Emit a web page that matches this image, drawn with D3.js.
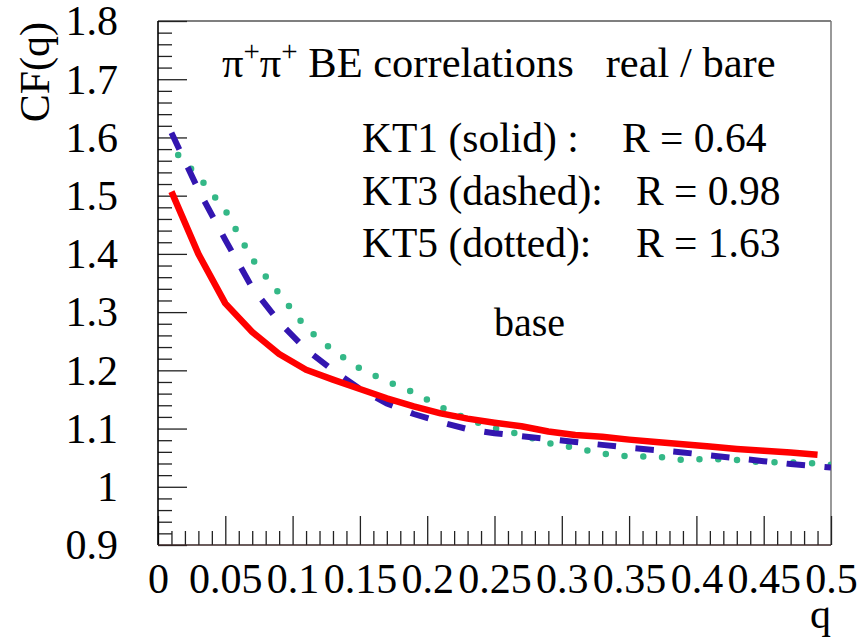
<!DOCTYPE html>
<html>
<head>
<meta charset="utf-8">
<script src="https://cdn.jsdelivr.net/npm/d3@7/dist/d3.min.js"></script>
<style>
  html, body { margin: 0; padding: 0; background: #fff; }
  svg { display: block; }
  svg text { font-family: 'Liberation Serif' !important; fill: #000; }
</style>
</head>
<body>
<svg id="chart" width="865" height="639"></svg>
<script>
// Correlation function CF(q) for three kT bins
const qKT1 = [0.01,0.03,0.05,0.07,0.09,0.11,0.13,0.15,0.17,0.19,0.21,0.23,0.25,0.27,0.29,0.31,0.33,0.35,0.37,0.39,0.41,0.43,0.45,0.47,0.49];
const cfKT1 = [1.507,1.400,1.315,1.266,1.228,1.201,1.184,1.168,1.152,1.138,1.126,1.117,1.110,1.104,1.095,1.089,1.086,1.081,1.077,1.073,1.069,1.065,1.062,1.059,1.055];

const qKT3 = [0.01,0.03,0.05,0.07,0.09,0.11,0.13,0.15,0.17,0.19,0.21,0.23,0.25,0.27,0.29,0.31,0.33,0.35,0.37,0.39,0.41,0.43,0.45,0.47,0.49,0.50];
const cfKT3 = [1.608,1.510,1.424,1.342,1.283,1.236,1.200,1.168,1.143,1.125,1.111,1.099,1.092,1.087,1.082,1.077,1.072,1.067,1.063,1.059,1.054,1.049,1.044,1.039,1.035,1.033];

const qKT5 = [0.01,0.03,0.05,0.07,0.09,0.11,0.13,0.15,0.17,0.19,0.21,0.23,0.25,0.27,0.29,0.31,0.33,0.35,0.37,0.39,0.41,0.43,0.45,0.47,0.49,0.50];
const cfKT5 = [1.582,1.533,1.475,1.391,1.332,1.273,1.234,1.203,1.181,1.162,1.137,1.116,1.101,1.089,1.075,1.067,1.057,1.052,1.052,1.046,1.048,1.046,1.042,1.042,1.040,1.038];

const xTickValues = [0,0.05,0.1,0.15,0.2,0.25,0.3,0.35,0.4,0.45,0.5];
const xTickLabels = ["0","0.05","0.1","0.15","0.2","0.25","0.3","0.35","0.4","0.45","0.5"];
const yTickValues = [0.9,1.0,1.1,1.2,1.3,1.4,1.5,1.6,1.7,1.8];
const yTickLabels = ["0.9","1","1.1","1.2","1.3","1.4","1.5","1.6","1.7","1.8"];

const fitLabels = ["KT1 (solid) :", "KT3 (dashed):", "KT5 (dotted):"];
const fitRadii = ["R = 0.64", "R = 0.98", "R = 1.63"];

const serif = "'Liberation Serif'";

const svg = d3.select("#chart");
const frame = { left: 158, right: 831, top: 21, bottom: 545 };

const x = d3.scaleLinear().domain([0, 0.5]).range([frame.left, frame.right]);
const y = d3.scaleLinear().domain([0.9, 1.8]).range([frame.bottom, frame.top]);

// minor tick positions
const xMinor = d3.range(0, 51).map(i => i / 100).filter(v => Math.round(v * 100) % 5 !== 0);
const yMinor = d3.range(0, 46).map(i => 0.9 + i * 0.02).filter((v, i) => i % 5 !== 0);

// frame
svg.append("line").attr("x1", frame.left).attr("x2", frame.right).attr("y1", frame.top).attr("y2", frame.top)
  .attr("stroke", "#555").attr("stroke-width", 1.5);
svg.append("line").attr("x1", frame.right).attr("x2", frame.right).attr("y1", frame.top).attr("y2", frame.bottom)
  .attr("stroke", "#777").attr("stroke-width", 1.5);

// y axis ticks (pointing into the frame)
const yMajorAxis = d3.axisRight(y).tickValues(yTickValues).tickSize(29).tickFormat("");
const yMinorAxis = d3.axisRight(y).tickValues(yMinor).tickSize(14).tickFormat("");
const gy1 = svg.append("g").attr("transform", `translate(${frame.left},0)`).call(yMajorAxis);
const gy2 = svg.append("g").attr("transform", `translate(${frame.left},0)`).call(yMinorAxis);
[gy1, gy2].forEach(g => { g.select(".domain").remove(); g.selectAll("line").attr("stroke", "#222").attr("stroke-width", 1.3); });

// x axis ticks (pointing up into the frame)
const xMajorAxis = d3.axisTop(x).tickValues(xTickValues).tickSize(29).tickFormat("");
const xMinorAxis = d3.axisTop(x).tickValues(xMinor).tickSize(14).tickFormat("");
const gx1 = svg.append("g").attr("transform", `translate(0,${frame.bottom})`).call(xMajorAxis);
const gx2 = svg.append("g").attr("transform", `translate(0,${frame.bottom})`).call(xMinorAxis);
[gx1, gx2].forEach(g => { g.select(".domain").remove(); g.selectAll("line").attr("stroke", "#222").attr("stroke-width", 1.3); });

// tick labels
const yLabelAxis = d3.axisLeft(y).tickValues(yTickValues).tickSize(0).tickPadding(40)
  .tickFormat((d, i) => yTickLabels[i]);
const gyl = svg.append("g").attr("transform", `translate(${frame.left},0)`).call(yLabelAxis)
  .attr("font-size", 42);
gyl.select(".domain").remove();
gyl.selectAll("text").attr("dy", "0.33em").style("font-family", serif);

const xLabelAxis = d3.axisBottom(x).tickValues(xTickValues).tickSize(0).tickPadding(18)
  .tickFormat((d, i) => xTickLabels[i]);
const gxl = svg.append("g").attr("transform", `translate(0,${frame.bottom})`).call(xLabelAxis)
  .attr("font-size", 42);
gxl.select(".domain").remove();
gxl.selectAll("text").style("font-family", serif);

// axis lines
svg.append("line").attr("x1", frame.left).attr("x2", frame.left).attr("y1", frame.top).attr("y2", frame.bottom)
  .attr("stroke", "#000").attr("stroke-width", 1.6);
svg.append("line").attr("x1", frame.left).attr("x2", frame.right).attr("y1", frame.bottom).attr("y2", frame.bottom)
  .attr("stroke", "#3a2626").attr("stroke-width", 1.6);

// axis titles
svg.append("text").attr("transform", "translate(49,22) rotate(-90)").attr("text-anchor", "end")
  .style("font-family", serif).attr("font-size", 42).text("CF(q)");
svg.append("text").attr("x", frame.right).attr("y", 628).attr("text-anchor", "end")
  .style("font-family", serif).attr("font-size", 42).text("q");

// curves
svg.append("clipPath").attr("id", "plot-clip").append("rect")
  .attr("x", frame.left).attr("y", frame.top).attr("width", frame.right - frame.left).attr("height", frame.bottom - frame.top);

const line = d3.line().x(d => x(d[0])).y(d => y(d[1]));
const plot = svg.append("g").attr("clip-path", "url(#plot-clip)");

plot.append("path").datum(d3.zip(qKT5, cfKT5)).attr("d", line)
  .attr("fill", "none").attr("stroke", "#34b887").attr("stroke-width", 6.5)
  .attr("stroke-linecap", "round").attr("stroke-dasharray", "0 18.8").attr("stroke-dashoffset", 9);

plot.append("path").datum(d3.zip(qKT3, cfKT3)).attr("d", line)
  .attr("fill", "none").attr("stroke", "#3316b0").attr("stroke-width", 6)
  .attr("stroke-dasharray", "18.5 19.5");

plot.append("path").datum(d3.zip(qKT1, cfKT1)).attr("d", line)
  .attr("fill", "none").attr("stroke", "#ff0000").attr("stroke-width", 6.5)
  .attr("stroke-linejoin", "round");

// title
const title = svg.append("text").attr("x", 222).attr("y", 77).style("font-family", serif).attr("font-size", 42.5);
title.append("tspan").text("π");
title.append("tspan").attr("dy", -16).attr("font-size", 29).text("+");
title.append("tspan").attr("dy", 16).text("π");
title.append("tspan").attr("dy", -16).attr("font-size", 29).text("+");
title.append("tspan").attr("dy", 16).style("white-space", "pre").text(" BE correlations   real / bare");

// fit results
const rowBase = [152, 205, 257];
const rX = [622, 636, 636];
fitLabels.forEach((t, i) => {
  svg.append("text").attr("x", 362).attr("y", rowBase[i]).style("font-family", serif).attr("font-size", 41.5).text(t);
  svg.append("text").attr("x", rX[i]).attr("y", rowBase[i]).style("font-family", serif).attr("font-size", 41.5).text(fitRadii[i]);
});

svg.append("text").attr("x", 494).attr("y", 336).style("font-family", serif).attr("font-size", 40).text("base");
</script>
</body>
</html>
